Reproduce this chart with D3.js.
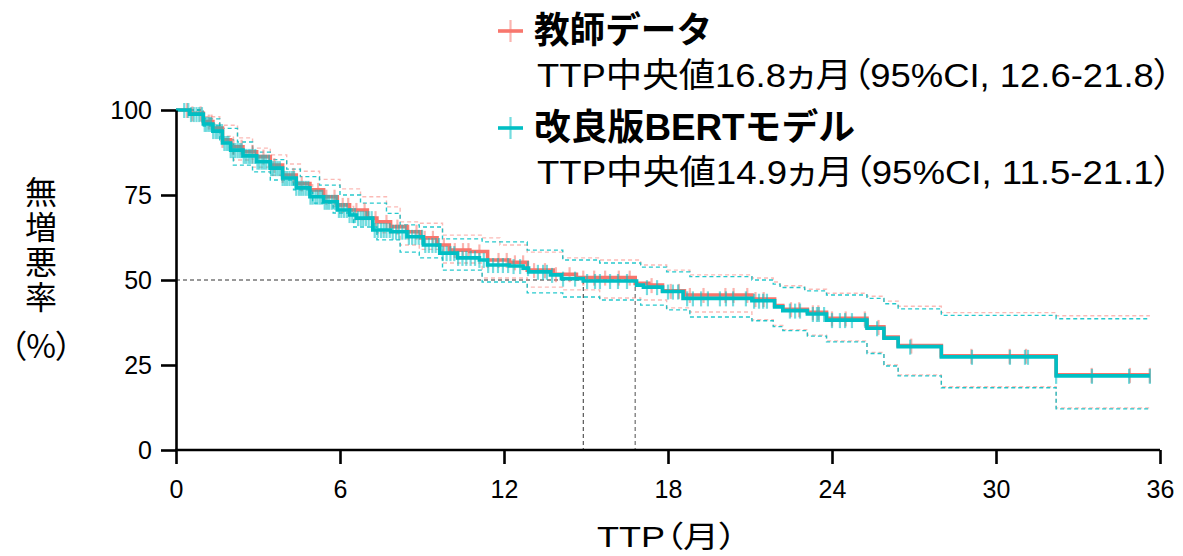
<!DOCTYPE html>
<html><head><meta charset="utf-8">
<script src="https://cdn.jsdelivr.net/npm/d3@7"></script>
<style>body{margin:0;background:#fff} svg{display:block} .palt{font-feature-settings:"palt" 1}</style>
</head><body><svg id="c" width="1183" height="556"></svg>
<script>
// ---------- data ----------
const xTicks = [0, 6, 12, 18, 24, 30, 36];
const yTicks = [0, 25, 50, 75, 100];
const seriesNames = ["教師データ", "改良版BERTモデル"];
const medianLabels = ["TTP中央値16.8ヵ月（95%CI, 12.6-21.8）", "TTP中央値14.9ヵ月（95%CI, 11.5-21.1）"];
const medians = [16.8, 14.9];
const endTime = 35.63;

// 教師データ (teacher) KM steps
const teacherTime = [0, 0.5, 1.0, 1.35, 1.7, 2.0, 2.45, 2.95, 3.45, 3.9, 4.4, 4.9, 5.4, 5.9, 6.35, 7.0, 7.35, 7.85, 8.45, 8.95, 9.55, 10.0, 10.75, 11.4, 12.2, 12.85, 13.8, 14.65, 16.8, 17.3, 17.8, 18.6, 21.07, 21.9, 22.2, 23.1, 23.8, 25.28, 25.9, 26.42, 28.0, 32.2];
const teacherSurv = [100, 99.0, 96.6, 94.7, 91.2, 89.2, 87.7, 86.3, 83.8, 80.9, 78.4, 76.5, 74.5, 72.1, 70.6, 68.2, 67.1, 65.7, 64.2, 62.4, 60.3, 58.8, 58.4, 55.9, 55.2, 52.9, 51.7, 50.7, 49.0, 48.5, 46.8, 45.6, 44.4, 42.5, 41.4, 40.5, 38.7, 36.2, 33.2, 30.7, 27.7, 22.1];
const teacherUpTime = [0, 1.0, 1.6, 2.25, 2.8, 3.45, 4.05, 4.55, 5.25, 6.0, 6.75, 7.7, 8.2, 8.9, 9.75, 11.2, 11.85, 12.85, 14.15, 15.5, 17.0, 17.95, 18.8, 21.07, 21.85, 22.1, 23.0, 23.8, 25.28, 25.9, 26.42, 28.0, 32.2];
const teacherUp = [100, 98.0, 95.5, 91.8, 88.8, 86.8, 84.1, 82.0, 79.6, 76.8, 74.5, 71.5, 67.1, 66.7, 63.2, 62.4, 60.3, 58.2, 56.5, 55.9, 54.4, 52.9, 51.5, 50.6, 49.4, 48.3, 47.3, 46.1, 45.2, 43.8, 42.3, 40.4, 39.5];
const teacherLoTime = [0, 1.0, 1.6, 2.1, 2.8, 3.45, 4.3, 5.0, 5.75, 6.5, 7.35, 8.2, 8.9, 9.75, 11.2, 12.85, 14.15, 15.5, 17.0, 17.95, 18.8, 21.07, 21.85, 22.2, 23.1, 23.8, 25.28, 25.9, 26.42, 28.0, 32.2];
const teacherLo = [100, 96.0, 92.3, 85.3, 83.2, 80.8, 78.0, 74.5, 71.6, 67.8, 63.9, 60.3, 59.0, 55.0, 50.6, 47.9, 47.1, 44.7, 44.1, 41.8, 40.6, 38.3, 36.6, 35.4, 33.8, 32.1, 28.7, 25.0, 22.1, 18.6, 12.4];
const teacherCensor = [0.4, 0.6, 0.9, 1.2, 1.3, 1.7, 2.1, 2.4, 2.8, 3.2, 3.6, 3.9, 4.3, 4.6, 4.9, 5.2, 5.5, 5.8, 6.1, 6.3, 6.6, 6.9, 7.3, 7.7, 8.1, 8.5, 8.8, 9.1, 9.4, 9.8, 10.2, 10.5, 10.7, 11.1, 11.4, 11.8, 12.1, 12.4, 12.7, 13.1, 13.5, 13.9, 14.4, 14.9, 15.3, 15.7, 16.2, 16.6, 17.4, 18.1, 18.4, 18.8, 19.3, 20.1, 20.4, 20.9, 21.2, 21.5, 22.5, 22.8, 23.3, 23.5, 24.0, 24.5, 25.2, 25.7, 26.9, 29.1, 30.5, 31.1, 33.5, 34.9, 35.63];

// 改良版BERTモデル KM steps
const bertTime = [0, 0.5, 1.0, 1.35, 1.7, 2.0, 2.45, 2.95, 3.45, 3.9, 4.4, 4.9, 5.4, 5.9, 6.35, 6.6, 7.2, 7.85, 8.45, 9.05, 9.65, 10.3, 11.1, 11.4, 12.2, 12.7, 12.9, 13.7, 14.1, 14.9, 16.85, 17.1, 17.8, 18.55, 21.07, 21.9, 22.2, 23.1, 23.8, 25.28, 25.9, 26.42, 28.0, 32.2];
const bertSurv = [100, 98.8, 95.9, 93.8, 90.3, 88.2, 86.5, 84.8, 82.9, 80.0, 77.1, 74.5, 73.0, 70.6, 69.1, 68.2, 64.7, 64.2, 62.7, 60.3, 57.9, 56.5, 55.9, 54.4, 54.1, 53.5, 52.4, 51.5, 50.4, 49.7, 48.5, 47.9, 46.6, 44.6, 43.9, 42.1, 41.0, 40.0, 38.2, 35.8, 32.9, 30.4, 27.4, 21.8];
const bertUpTime = [0, 1.0, 1.6, 2.25, 2.8, 3.45, 4.05, 4.55, 5.25, 6.0, 6.75, 7.7, 8.2, 8.9, 9.75, 11.2, 12.85, 14.15, 15.5, 17.0, 17.95, 18.8, 21.07, 21.85, 22.1, 23.0, 23.8, 25.28, 25.9, 26.42, 28.0, 32.2];
const bertUp = [100, 97.4, 94.6, 90.6, 87.6, 85.4, 82.6, 80.4, 77.9, 75.0, 72.6, 69.6, 66.2, 65.6, 62.1, 61.2, 58.8, 55.9, 55.0, 53.8, 52.4, 51.0, 50.0, 48.8, 47.8, 46.8, 45.6, 44.6, 43.0, 41.5, 39.6, 38.6];
const bertLoTime = [0, 1.0, 1.6, 2.1, 2.8, 3.45, 4.3, 5.0, 5.75, 6.5, 7.35, 8.2, 8.9, 9.75, 11.2, 12.85, 14.15, 15.5, 17.0, 17.95, 18.8, 21.07, 21.85, 22.2, 23.1, 23.8, 25.28, 25.9, 26.42, 28.0, 32.2];
const bertLo = [100, 95.3, 91.2, 83.8, 81.8, 79.4, 76.5, 72.6, 69.7, 65.6, 61.8, 58.2, 56.5, 52.9, 49.4, 46.2, 45.0, 44.1, 42.6, 41.2, 39.1, 38.0, 36.3, 35.1, 33.5, 31.8, 28.4, 24.7, 21.8, 18.3, 12.1];
const bertCensor = [0.3, 0.45, 0.55, 0.65, 0.75, 0.85, 0.95, 1.05, 1.12, 1.2, 1.28, 1.36, 1.45, 1.52, 1.6, 1.68, 1.77, 1.85, 1.92, 2.0, 2.08, 2.16, 2.25, 2.33, 2.4, 2.48, 2.56, 2.65, 2.72, 2.8, 2.9, 2.98, 3.05, 3.14, 3.22, 3.3, 3.4, 3.48, 3.55, 3.64, 3.72, 3.8, 3.9, 3.98, 4.06, 4.15, 4.24, 4.32, 4.4, 4.5, 4.58, 4.66, 4.75, 4.84, 4.92, 5.0, 5.1, 5.18, 5.27, 5.35, 5.44, 5.52, 5.6, 5.7, 5.8, 5.88, 5.96, 6.05, 6.15, 6.25, 6.35, 6.45, 6.55, 6.66, 6.76, 6.85, 6.95, 7.05, 7.16, 7.27, 7.38, 7.5, 7.6, 7.7, 7.82, 7.93, 8.05, 8.16, 8.28, 8.4, 8.52, 8.64, 8.76, 8.88, 9.0, 9.12, 9.25, 9.38, 9.5, 9.62, 9.76, 9.9, 10.04, 10.18, 10.32, 10.48, 10.62, 10.78, 10.94, 11.1, 11.26, 11.42, 11.6, 11.78, 11.96, 12.15, 12.35, 12.59, 12.88, 13.24, 13.43, 13.57, 13.76, 14.16, 14.6, 15.04, 15.33, 15.51, 15.88, 16.17, 16.5, 17.23, 17.6, 18.0, 18.18, 18.37, 18.7, 18.91, 19.21, 19.46, 19.9, 20.12, 20.38, 20.85, 21.15, 21.33, 21.48, 21.62, 22.46, 22.65, 22.83, 23.3, 23.45, 23.52, 23.71, 24.0, 24.29, 24.48, 24.73, 25.21, 25.65, 26.86, 29.12, 30.51, 31.06, 31.17, 32.2, 33.51, 34.87, 35.63];

// ---------- drawing ----------
const colors = ["#F8766D", "#00BFC4"];
const latin = "'Liberation Sans', Arial, 'Noto Sans CJK JP', sans-serif";
const cjk = "'Noto Sans CJK JP', 'Liberation Sans', sans-serif";
const svg = d3.select("#c");
const x = d3.scaleLinear().domain([0, 36]).range([176, 1160]);
const y = d3.scaleLinear().domain([0, 100]).range([450, 110]);

const stepLine = d3.line().x(d => x(d[0])).y(d => y(d[1])).curve(d3.curveStepAfter);
function pts(T, S) { const p = T.map((t, i) => [t, S[i]]); p.push([endTime, S[S.length - 1]]); return p; }
function valAt(T, S, t) { let v = S[0]; for (let i = 0; i < T.length; i++) { if (T[i] <= t) v = S[i]; } return v; }

const series = [
  { T: teacherTime, S: teacherSurv, UT: teacherUpTime, U: teacherUp, LT: teacherLoTime, L: teacherLo, C: teacherCensor },
  { T: bertTime, S: bertSurv, UT: bertUpTime, U: bertUp, LT: bertLoTime, L: bertLo, C: bertCensor }
];
const ciOpacity = [0.5, 0.85];

// median reference lines
const g0 = svg.append("g");
g0.append("line").attr("x1", x(0)).attr("x2", x(medians[0])).attr("y1", y(50)).attr("y2", y(50))
  .attr("stroke", "#333").attr("stroke-width", 1).attr("stroke-dasharray", "4,3");
medians.forEach((m, i) => {
  g0.append("line").attr("x1", x(m)).attr("x2", x(m)).attr("y1", y(50)).attr("y2", y(0))
    .attr("stroke", i === 0 ? "#777" : "#333").attr("stroke-width", i === 0 ? 1.3 : 1).attr("stroke-dasharray", "4,3");
});

// CI lines
series.forEach((s, i) => {
  [[s.UT, s.U], [s.LT, s.L]].forEach(([T, V]) => {
    svg.append("path").attr("d", stepLine(pts(T, V))).attr("fill", "none")
      .attr("stroke", colors[i]).attr("stroke-opacity", ciOpacity[i]).attr("stroke-width", 1.4)
      .attr("stroke-dasharray", "4,3");
  });
});

// curves + censor marks
series.forEach((s, i) => {
  svg.append("path").attr("d", stepLine(pts(s.T, s.S))).attr("fill", "none")
    .attr("stroke", colors[i]).attr("stroke-width", 3.6);
  svg.append("g").selectAll("line").data(s.C).join("line")
    .attr("x1", d => x(d)).attr("x2", d => x(d))
    .attr("y1", d => y(valAt(s.T, s.S, d)) - 7).attr("y2", d => y(valAt(s.T, s.S, d)) + 8)
    .attr("stroke", colors[i]).attr("stroke-opacity", 0.55).attr("stroke-width", 2.2);
});

// axes
const xAxis = svg.append("g").attr("transform", `translate(0,${y(0)})`)
  .call(d3.axisBottom(x).tickValues(xTicks).tickSize(14).tickSizeOuter(0).tickPadding(16));
const yAxis = svg.append("g").attr("transform", `translate(${x(0)},0)`)
  .call(d3.axisLeft(y).tickValues(yTicks).tickSize(15).tickSizeOuter(0).tickPadding(9));
[xAxis, yAxis].forEach(a => {
  a.selectAll("path,line").attr("stroke", "#000").attr("stroke-width", 2.6);
  a.selectAll("text").attr("font-family", latin).attr("font-size", 25).attr("fill", "#000");
});
xAxis.select(".domain").attr("d", `M${x(0) - 1},0H${x(36)}`);

// axis titles
svg.append("text").attr("class", "palt").attr("x", 597).attr("y", 547)
  .attr("font-family", latin).attr("font-size", 30)
  .attr("textLength", 140).attr("lengthAdjust", "spacingAndGlyphs").text("TTP（月）");
svg.append("text").attr("x", 41).attr("y", 176)
  .attr("writing-mode", "vertical-rl").attr("letter-spacing", 3)
  .attr("font-family", cjk).attr("font-size", 32).text("無増悪率");
svg.append("text").attr("class", "palt").attr("x", 10).attr("y", 358)
  .attr("font-family", cjk).attr("font-size", 32)
  .attr("textLength", 62).attr("lengthAdjust", "spacingAndGlyphs").text("（%）");

// legend
const legY = [31, 128];
seriesNames.forEach((n, i) => {
  const ly = legY[i];
  svg.append("line").attr("x1", 498).attr("x2", 523).attr("y1", ly).attr("y2", ly)
    .attr("stroke", colors[i]).attr("stroke-width", 3.6);
  svg.append("line").attr("x1", 510.5).attr("x2", 510.5).attr("y1", ly - 11).attr("y2", ly + 11)
    .attr("stroke", colors[i]).attr("stroke-opacity", 0.55).attr("stroke-width", 2.2);
  svg.append("text").attr("x", 534).attr("y", ly + 12).attr("font-family", latin)
    .attr("font-weight", "bold").attr("font-size", 36)
    .attr("textLength", i === 0 ? 178 : 321).attr("lengthAdjust", "spacingAndGlyphs").text(n);
  svg.append("text").attr("class", "palt").attr("x", 537).attr("y", ly + 56).attr("font-family", latin)
    .attr("font-size", 34).attr("textLength", 635).attr("lengthAdjust", "spacingAndGlyphs").text(medianLabels[i]);
});
</script></body></html>
